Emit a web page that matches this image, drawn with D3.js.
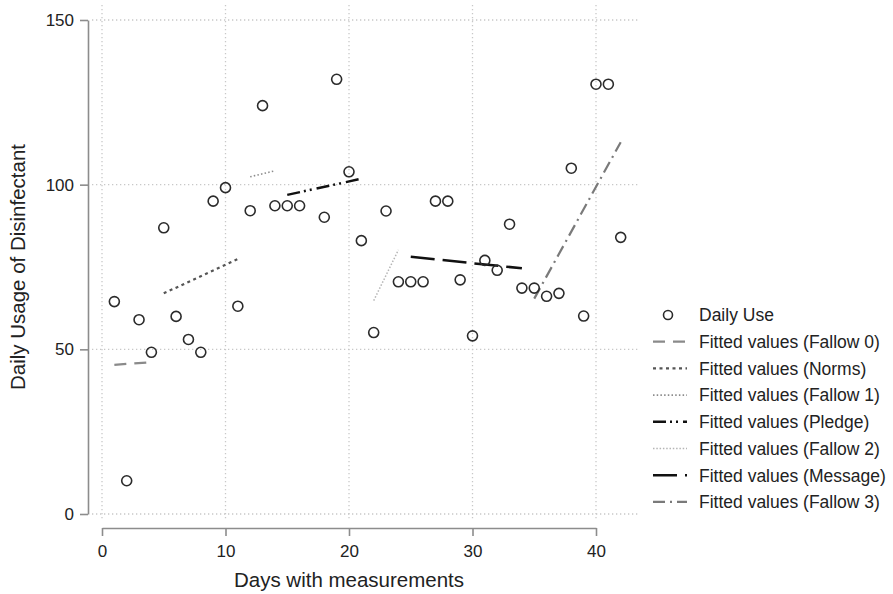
<!DOCTYPE html>
<html>
<head>
<meta charset="utf-8">
<script src="https://cdn.jsdelivr.net/npm/d3@7"></script>
<style>
  html, body { margin: 0; padding: 0; background: #fff; }
  svg { display: block; font-family: "Liberation Sans", Arial, Helvetica, sans-serif; }
</style>
</head>
<body>
<svg id="chart" width="893" height="594"></svg>
<script>
// ---- data ----
const days = [1,2,3,4,5,6,7,8,9,10,11,12,13,14,15,16,18,19,20,21,22,23,24,25,26,27,28,29,30,31,32,33,34,35,36,37,38,39,40,41,42];
const usage = [64.5,10.1,59.0,49.1,86.9,60.0,53.0,49.1,95.0,99.1,63.1,92.1,124.0,93.6,93.6,93.6,90.1,132.0,103.9,83.0,55.1,92.0,70.5,70.5,70.5,95.0,95.0,71.1,54.1,77.0,74.0,88.0,68.6,68.6,66.1,67.0,105.0,60.1,130.5,130.5,84.0];

const phaseNames = ["Fallow 0","Norms","Fallow 1","Pledge","Fallow 2","Message","Fallow 3"];
const fitStartDay = [1, 5, 12, 15, 22, 25, 35];
const fitEndDay   = [4, 11, 14, 21, 24, 34, 42];
const fitStartVal = [45.3, 67.0, 102.4, 96.9, 64.8, 78.1, 65.4];
const fitEndVal   = [46.1, 77.4, 104.2, 101.8, 80.2, 74.6, 112.9];

const xTicks = [0,10,20,30,40];
const yTicks = [0,50,100,150];

// ---- styles (not data) ----
const fitStyles = [
  {stroke:"#8a8a8a", width:2.2, dash:"12,8"},
  {stroke:"#555",    width:2.2, dash:"3,3.5"},
  {stroke:"#8c8c8c", width:1.6, dash:"1.5,2.2"},
  {stroke:"#111",    width:2.5, dash:"13,4,2,4,2,5"},
  {stroke:"#b5b5b5", width:1.5, dash:"1.5,1.8"},
  {stroke:"#111",    width:2.5, dash:"24,8"},
  {stroke:"#7a7a7a", width:2.2, dash:"12,5,2,5"}
];

const svg = d3.select("#chart");
const x = d3.scaleLinear().domain([0,40]).range([102,596]);
const y = d3.scaleLinear().domain([0,150]).range([514,20]);

const textColor = "#222";
const axisColor = "#8c8c8c";

// grid
const grid = svg.append("g");
grid.selectAll(".vg").data(xTicks).join("line")
  .attr("x1", d=>x(d)).attr("x2", d=>x(d)).attr("y1", 5).attr("y2", 521)
  .attr("stroke","#c8c8c8").attr("stroke-width",1.3).attr("stroke-dasharray","1.3,2.7");
grid.selectAll(".hg").data(yTicks).join("line")
  .attr("y1", d=>y(d)).attr("y2", d=>y(d)).attr("x1", 92).attr("x2", 640)
  .attr("stroke","#c8c8c8").attr("stroke-width",1.3).attr("stroke-dasharray","1.3,2.7");

// axes
const yAxis = svg.append("g").attr("transform","translate(88,0)")
  .call(d3.axisLeft(y).tickValues(yTicks).tickSize(8).tickSizeOuter(0).tickPadding(6));
const xAxis = svg.append("g").attr("transform","translate(0,528)")
  .call(d3.axisBottom(x).tickValues(xTicks).tickSize(8).tickSizeOuter(0).tickPadding(9));
[yAxis, xAxis].forEach(a => {
  a.select(".domain").attr("stroke", axisColor).attr("stroke-width",1.6);
  a.selectAll(".tick line").attr("stroke", axisColor).attr("stroke-width",1.6);
  a.selectAll(".tick text").attr("fill", textColor).style("font-size","17px")
    .style("font-family","'Liberation Sans', Arial, sans-serif");
});

// axis titles
svg.append("text").attr("x", 349).attr("y", 587).attr("text-anchor","middle")
  .attr("fill", textColor).style("font-size","20.5px").text("Days with measurements");
svg.append("text").attr("transform","translate(25,267) rotate(-90)").attr("text-anchor","middle")
  .attr("fill", textColor).style("font-size","20.5px").text("Daily Usage of Disinfectant");

// fitted lines
const fits = phaseNames.map((n,i)=>({name:n, x0:fitStartDay[i], x1:fitEndDay[i], y0:fitStartVal[i], y1:fitEndVal[i], st:fitStyles[i]}));
svg.append("g").selectAll("line").data(fits).join("line")
  .attr("x1", d=>x(d.x0)).attr("x2", d=>x(d.x1))
  .attr("y1", d=>y(d.y0)).attr("y2", d=>y(d.y1))
  .attr("stroke", d=>d.st.stroke).attr("stroke-width", d=>d.st.width)
  .attr("stroke-dasharray", d=>d.st.dash).attr("fill","none");

// points
const pts = days.map((d,i)=>({d, v:usage[i]}));
svg.append("g").selectAll("circle").data(pts).join("circle")
  .attr("cx", p=>x(p.d)).attr("cy", p=>y(p.v)).attr("r", 5)
  .attr("fill","none").attr("stroke","#2b2b2b").attr("stroke-width",1.6);

// legend
const legY0 = 315, legStep = 26.7, legTextX = 699;
const leg = svg.append("g");
leg.append("circle").attr("cx", 668).attr("cy", legY0).attr("r", 4.5)
  .attr("fill","none").attr("stroke","#2b2b2b").attr("stroke-width",1.6);
leg.append("text").attr("x", legTextX).attr("y", legY0).attr("dy","0.36em")
  .attr("fill", textColor).style("font-size","17.5px").text("Daily Use");
fits.forEach((f,i)=>{
  const yy = legY0 + legStep*(i+1);
  leg.append("line").attr("x1",653).attr("x2",687).attr("y1",yy).attr("y2",yy)
    .attr("stroke", f.st.stroke).attr("stroke-width", f.st.width).attr("stroke-dasharray", f.st.dash);
  leg.append("text").attr("x", legTextX).attr("y", yy).attr("dy","0.36em")
    .attr("fill", textColor).style("font-size","17.5px").text("Fitted values (" + f.name + ")");
});
</script>
</body>
</html>
